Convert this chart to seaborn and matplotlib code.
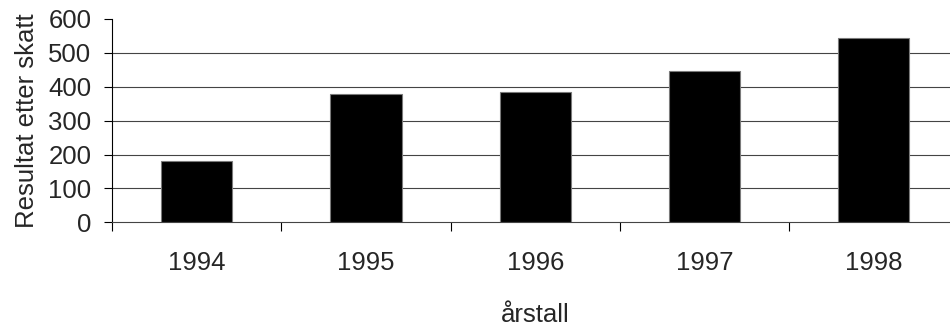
import matplotlib
matplotlib.use("Agg")
import matplotlib.pyplot as plt
import seaborn as sns
import pandas as pd
import numpy as np

# Profit after tax per year
years = ["1994", "1995", "1996", "1997", "1998"]
result_after_tax = [180, 378, 385, 446, 545]
y_ticks = [0, 100, 200, 300, 400, 500, 600]

df = pd.DataFrame({"år": years, "resultat": result_after_tax})

FS = 18.5

sns.set_theme(style="white")
plt.rcParams["font.family"] = ["Liberation Sans", "DejaVu Sans"]
plt.rcParams["font.size"] = FS

fig = plt.figure(figsize=(9.5, 3.26), dpi=100)
ax = fig.add_axes([112 / 950, 1 - 222.3 / 326, 846.5 / 950, 203.3 / 326])

sns.barplot(data=df, x="år", y="resultat", color="black", width=0.42,
            edgecolor="#7a7a7a", linewidth=0.8, saturation=1, ax=ax, zorder=3)

ax.set_xlim(-0.5, len(years) - 0.5)
ax.set_ylim(0, 600)
ax.set_yticks(y_ticks)
ax.set_yticklabels([str(t) for t in y_ticks], fontsize=FS)

# horizontal grid lines
for t in y_ticks[1:-1]:
    ax.axhline(t, color="#444444", lw=0.8, zorder=1)

# category labels centred, boundary tick marks between categories
ax.set_xticks(range(len(years)))
ax.set_xticklabels(years, fontsize=FS)
ax.tick_params(axis="x", which="major", length=0, pad=21)
ax.set_xticks(np.arange(-0.5, len(years) - 0.5, 1.0), minor=True)
ax.tick_params(axis="x", which="minor", direction="out", length=6.5,
               width=0.8, color="black", bottom=True)
ax.tick_params(axis="y", direction="out", length=5.8, width=0.8,
               color="black", left=True, pad=9)

for side in ["top", "right"]:
    ax.spines[side].set_visible(False)
ax.spines["left"].set_color("black")
ax.spines["left"].set_linewidth(0.8)
ax.spines["bottom"].set_color("#444444")
ax.spines["bottom"].set_linewidth(0.8)

ax.set_xlabel("årstall", fontsize=FS, labelpad=20)
ax.set_ylabel("Resultat etter skatt", fontsize=FS, labelpad=7)

fig.savefig("out.png", dpi=100)
